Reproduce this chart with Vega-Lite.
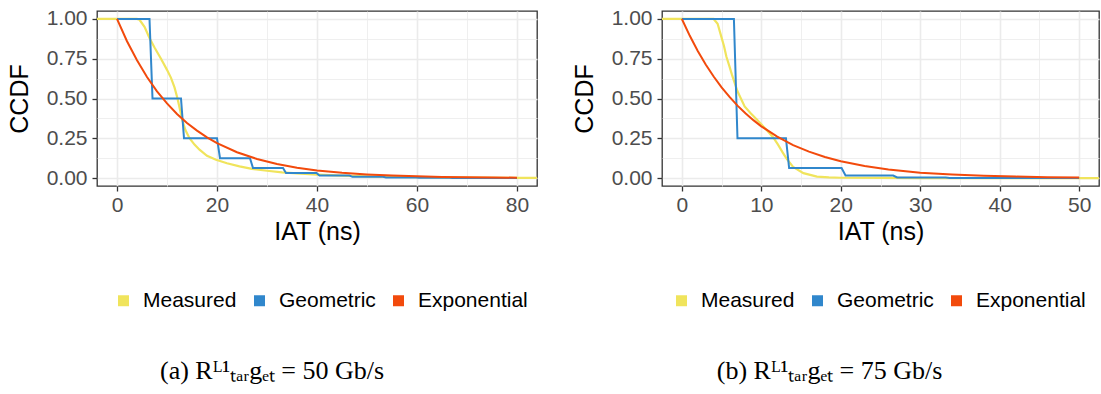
{
  "$schema": "https://vega.github.io/schema/vega-lite/v6.json",
  "padding": {"left": 6, "top": 7, "right": 2, "bottom": 4},
  "background": "white",
  "datasets": {
    "m50": [{"x":-5,"y":1},{"x":0,"y":1},{"x":4,"y":1},{"x":4.5,"y":0.995},{"x":5.5,"y":0.95},{"x":6.5,"y":0.88},{"x":7.5,"y":0.82},{"x":8.8,"y":0.75},{"x":10,"y":0.68},{"x":10.8,"y":0.63},{"x":11.5,"y":0.57},{"x":12.1,"y":0.5},{"x":12.6,"y":0.43},{"x":13.1,"y":0.36},{"x":13.7,"y":0.3},{"x":14.5,"y":0.25},{"x":15.5,"y":0.21},{"x":16.5,"y":0.178},{"x":18,"y":0.14},{"x":19.8,"y":0.115},{"x":22,"y":0.093},{"x":24.5,"y":0.073},{"x":27,"y":0.058},{"x":30,"y":0.046},{"x":33,"y":0.036},{"x":36,"y":0.029},{"x":40,"y":0.022},{"x":45,"y":0.015},{"x":50,"y":0.01},{"x":55,"y":0.007},{"x":60,"y":0.005},{"x":70,"y":0.0025},{"x":80,"y":0.0012},{"x":90,"y":0.0005}],
    "g50": [{"x":0,"y":1},{"x":6.5,"y":1},{"x":7.1,"y":0.5},{"x":12.8,"y":0.5},{"x":13.4,"y":0.25},{"x":20,"y":0.25},{"x":20.6,"y":0.125},{"x":26.6,"y":0.125},{"x":27.2,"y":0.0625},{"x":33.2,"y":0.0625},{"x":33.8,"y":0.03125},{"x":39.9,"y":0.03125},{"x":40.5,"y":0.015625},{"x":46.5,"y":0.015625},{"x":47.1,"y":0.0078},{"x":53.2,"y":0.0078},{"x":53.8,"y":0.0039},{"x":59.8,"y":0.0039},{"x":60.4,"y":0.002},{"x":66.5,"y":0.002},{"x":67.1,"y":0.001},{"x":73.1,"y":0.001},{"x":73.7,"y":0.0005},{"x":80,"y":0.0005}],
    "e50": [{"x":0,"y":1},{"x":2,"y":0.86},{"x":4,"y":0.74},{"x":6,"y":0.635},{"x":8,"y":0.545},{"x":10,"y":0.469},{"x":12,"y":0.403},{"x":14,"y":0.346},{"x":16,"y":0.298},{"x":18,"y":0.256},{"x":20,"y":0.22},{"x":24,"y":0.162},{"x":28,"y":0.12},{"x":32,"y":0.088},{"x":36,"y":0.065},{"x":40,"y":0.048},{"x":45,"y":0.033},{"x":50,"y":0.023},{"x":55,"y":0.0155},{"x":60,"y":0.0106},{"x":65,"y":0.0073},{"x":70,"y":0.005},{"x":75,"y":0.0034},{"x":80,"y":0.0023}],
    "m75": [{"x":-3,"y":1},{"x":0,"y":1},{"x":4,"y":1},{"x":4.5,"y":0.97},{"x":4.9,"y":0.9},{"x":5.3,"y":0.83},{"x":5.6,"y":0.764},{"x":6,"y":0.7},{"x":6.3,"y":0.65},{"x":7,"y":0.545},{"x":7.9,"y":0.45},{"x":8.6,"y":0.41},{"x":9.4,"y":0.37},{"x":10.7,"y":0.3},{"x":11.5,"y":0.255},{"x":12.1,"y":0.21},{"x":12.7,"y":0.16},{"x":13.2,"y":0.12},{"x":14,"y":0.07},{"x":15.3,"y":0.031},{"x":17,"y":0.009},{"x":18.5,"y":0.004},{"x":20,"y":0.002},{"x":25,"y":0.0005},{"x":30,"y":0.0001},{"x":55,"y":0}],
    "g75": [{"x":0,"y":1},{"x":6.55,"y":1},{"x":7.0,"y":0.25},{"x":13.1,"y":0.25},{"x":13.5,"y":0.0625},{"x":20.1,"y":0.0625},{"x":20.6,"y":0.0156},{"x":26.6,"y":0.0156},{"x":27.1,"y":0.0039},{"x":33.2,"y":0.0039},{"x":33.7,"y":0.001},{"x":39.9,"y":0.001},{"x":40.4,"y":0.00024},{"x":46.5,"y":0.00024},{"x":47,"y":0.00006},{"x":50,"y":0.00006}],
    "e75": [{"x":0,"y":1},{"x":1,"y":0.894},{"x":2,"y":0.799},{"x":3,"y":0.714},{"x":4,"y":0.638},{"x":5,"y":0.57},{"x":6,"y":0.51},{"x":7,"y":0.455},{"x":8,"y":0.407},{"x":9,"y":0.364},{"x":10,"y":0.325},{"x":12,"y":0.26},{"x":14,"y":0.207},{"x":16,"y":0.166},{"x":18,"y":0.132},{"x":20,"y":0.106},{"x":23,"y":0.0755},{"x":26,"y":0.054},{"x":30,"y":0.034},{"x":34,"y":0.022},{"x":38,"y":0.014},{"x":42,"y":0.009},{"x":46,"y":0.0057},{"x":50,"y":0.0036}]
  },
  "spacing": 33,
  "resolve": {"legend": {"color": "independent"}},
  "hconcat": [
    {
      "width": 440,
      "height": 175,
      "title": {"text": "(a) Rᴸ¹ₜₐᵣgₑₜ  = 50 Gb/s", "orient": "bottom", "offset": 41, "frame": "bounds"},
      "encoding": {
        "x": {"field": "x", "type": "quantitative", "scale": {"domain": [-4, 84], "nice": false, "zero": false},
          "axis": {"title": "IAT (ns)", "values": [0,10,20,30,40,50,60,70,80],
            "labelExpr": "datum.value % 20 == 0 ? datum.label : ''",
            "tickOpacity": {"condition": {"test": "datum.value % 20 == 0", "value": 1}, "value": 0},
            "gridWidth": {"condition": {"test": "datum.value % 20 == 0", "value": 1.6}, "value": 0.8}}},
        "y": {"field": "y", "type": "quantitative", "scale": {"domain": [-0.05, 1.05], "nice": false, "zero": false},
          "axis": {"title": "CCDF", "values": [0,0.125,0.25,0.375,0.5,0.625,0.75,0.875,1], "format": ".2f",
            "labelExpr": "round(datum.value*8) % 2 == 0 ? datum.label : ''",
            "tickOpacity": {"condition": {"test": "round(datum.value*8) % 2 == 0", "value": 1}, "value": 0},
            "gridWidth": {"condition": {"test": "round(datum.value*8) % 2 == 0", "value": 1.6}, "value": 0.8}}}
      },
      "layer": [
        {"data": {"name": "m50"}, "mark": {"type": "line", "clip": true, "strokeWidth": 2.2},
          "encoding": {"color": {"datum": "Measured", "type": "nominal",
            "scale": {"domain": ["Measured", "Geometric", "Exponential"], "range": ["#F0E45C", "#3087CC", "#F24A0C"]},
            "legend": {"title": null, "orient": "none", "legendX": 16, "legendY": 279, "direction": "horizontal"}}}},
        {"data": {"name": "g50"}, "mark": {"type": "line", "clip": true, "strokeWidth": 2},
          "encoding": {"color": {"datum": "Geometric", "type": "nominal"}}},
        {"data": {"name": "e50"}, "mark": {"type": "line", "clip": true, "strokeWidth": 2},
          "encoding": {"color": {"datum": "Exponential", "type": "nominal"}}}
      ]
    },
    {
      "width": 437,
      "height": 175,
      "title": {"text": "(b) Rᴸ¹ₜₐᵣgₑₜ  = 75 Gb/s", "orient": "bottom", "offset": 41, "frame": "bounds", "dx": -6},
      "encoding": {
        "x": {"field": "x", "type": "quantitative", "scale": {"domain": [-2.5, 52.5], "nice": false, "zero": false},
          "axis": {"title": "IAT (ns)", "values": [0,5,10,15,20,25,30,35,40,45,50],
            "labelExpr": "datum.value % 10 == 0 ? datum.label : ''",
            "tickOpacity": {"condition": {"test": "datum.value % 10 == 0", "value": 1}, "value": 0},
            "gridWidth": {"condition": {"test": "datum.value % 10 == 0", "value": 1.6}, "value": 0.8}}},
        "y": {"field": "y", "type": "quantitative", "scale": {"domain": [-0.05, 1.05], "nice": false, "zero": false},
          "axis": {"title": "CCDF", "values": [0,0.125,0.25,0.375,0.5,0.625,0.75,0.875,1], "format": ".2f",
            "labelExpr": "round(datum.value*8) % 2 == 0 ? datum.label : ''",
            "tickOpacity": {"condition": {"test": "round(datum.value*8) % 2 == 0", "value": 1}, "value": 0},
            "gridWidth": {"condition": {"test": "round(datum.value*8) % 2 == 0", "value": 1.6}, "value": 0.8}}}
      },
      "layer": [
        {"data": {"name": "m75"}, "mark": {"type": "line", "clip": true, "strokeWidth": 2.2},
          "encoding": {"color": {"datum": "Measured", "type": "nominal",
            "scale": {"domain": ["Measured", "Geometric", "Exponential"], "range": ["#F0E45C", "#3087CC", "#F24A0C"]},
            "legend": {"title": null, "orient": "none", "legendX": 9, "legendY": 279, "direction": "horizontal"}}}},
        {"data": {"name": "g75"}, "mark": {"type": "line", "clip": true, "strokeWidth": 2},
          "encoding": {"color": {"datum": "Geometric", "type": "nominal"}}},
        {"data": {"name": "e75"}, "mark": {"type": "line", "clip": true, "strokeWidth": 2},
          "encoding": {"color": {"datum": "Exponential", "type": "nominal"}}}
      ]
    }
  ],
  "config": {
    "view": {"stroke": "#333333", "strokeWidth": 1.3},
    "axis": {"domain": false, "labelFont": "Liberation Sans", "labelFontSize": 21, "labelColor": "#4D4D4D", "labelPadding": 5,
      "titleFont": "Liberation Sans", "titleFontSize": 25, "titleFontWeight": "normal", "titleColor": "#000000",
      "tickColor": "#333333", "tickSize": 5, "tickWidth": 1.3, "gridColor": "#EBEBEB"},
    "axisY": {"titlePadding": 14, "labelPadding": 5},
    "axisX": {"titlePadding": 4, "labelPadding": 3},
    "legend": {"labelFont": "Liberation Sans", "labelFontSize": 21, "labelColor": "#000000", "symbolType": "square",
      "symbolSize": 16, "symbolStrokeWidth": 7, "labelOffset": 9, "columnPadding": 6},
    "title": {"font": "Liberation Serif", "fontSize": 26, "fontWeight": "normal", "color": "#000000", "anchor": "middle"}
  }
}
